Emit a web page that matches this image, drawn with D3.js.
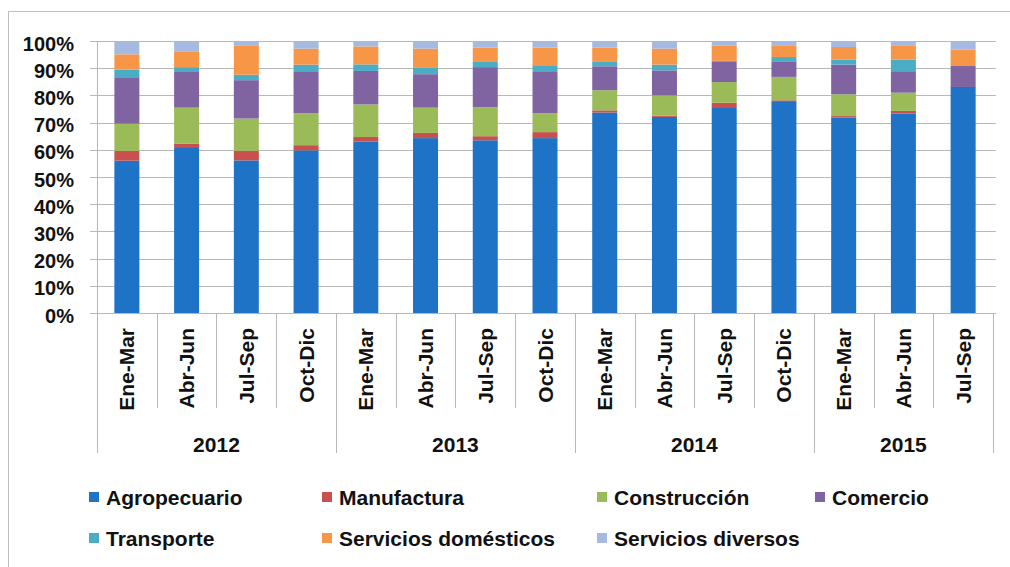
<!DOCTYPE html>
<html>
<head>
<meta charset="utf-8">
<script src="https://cdn.jsdelivr.net/npm/d3@7"></script>
<style>
  html, body { margin: 0; padding: 0; background: #fff; }
  svg { display: block; font-family: "Liberation Sans", Arial, Helvetica, sans-serif; }
</style>
</head>
<body>
<svg id="chart" width="1010" height="567"></svg>
<script>
// ---- Data ----
const years = ["2012", "2013", "2014", "2015"];
const quarters = ["Ene-Mar", "Abr-Jun", "Jul-Sep", "Oct-Dic",
                  "Ene-Mar", "Abr-Jun", "Jul-Sep", "Oct-Dic",
                  "Ene-Mar", "Abr-Jun", "Jul-Sep", "Oct-Dic",
                  "Ene-Mar", "Abr-Jun", "Jul-Sep"];
const quarterYear = ["2012","2012","2012","2012","2013","2013","2013","2013",
                     "2014","2014","2014","2014","2015","2015","2015"];
const seriesNames = ["Agropecuario", "Manufactura", "Construcción", "Comercio",
                     "Transporte", "Servicios domésticos", "Servicios diversos"];
const agropecuario = [56.0, 61.0, 56.1, 59.8, 63.1, 64.3, 63.5, 64.3, 73.7, 72.1, 75.7, 77.9, 71.8, 73.3, 83.1];
const manufactura  = [3.6, 1.3, 3.5, 1.9, 1.6, 1.9, 1.5, 2.2, 0.8, 0.4, 1.6, 0.3, 0.6, 1.0, 0.0];
const construccion = [10.0, 13.2, 11.9, 11.8, 12.0, 9.3, 10.7, 7.0, 7.4, 7.5, 7.6, 8.6, 8.0, 6.7, 0.0];
const comercio     = [16.8, 13.1, 14.1, 15.1, 12.3, 12.3, 14.7, 15.1, 8.8, 9.2, 7.4, 5.5, 10.9, 7.9, 7.7];
const transporte   = [3.1, 1.8, 2.0, 2.7, 2.4, 2.3, 1.9, 2.5, 1.6, 2.1, 0.4, 1.8, 1.9, 4.3, 0.0];
const servDomesticos = [5.6, 5.6, 10.6, 5.9, 6.6, 7.1, 5.3, 6.5, 5.3, 5.9, 5.7, 4.1, 4.6, 5.0, 6.0];
const servDiversos   = [4.9, 4.0, 1.8, 2.8, 2.0, 2.8, 2.4, 2.4, 2.4, 2.8, 1.6, 1.8, 2.2, 1.8, 3.2];
const yTicks = [0, 10, 20, 30, 40, 50, 60, 70, 80, 90, 100];

// ---- Styles ----
const colors = ["#1f73c6", "#c9504c", "#9bbb59", "#8064a2", "#4bacc6", "#f79646", "#a6b9e0"];
const seriesValues = [agropecuario, manufactura, construccion, comercio, transporte, servDomesticos, servDiversos];

const rows = quarters.map((q, i) => {
  const r = { idx: i };
  seriesNames.forEach((s, k) => { r[s] = seriesValues[k][i]; });
  return r;
});

const svg = d3.select("#chart");
const plotL = 97, plotR = 993, plotT = 41, plotB = 313;

// outer border
svg.append("rect").attr("x", 8.5).attr("y", 11.5).attr("width", 1010).attr("height", 560)
  .attr("fill", "none").attr("stroke", "#bdbdbd").attr("stroke-width", 1);

const x = d3.scaleBand().domain(d3.range(quarters.length)).range([plotL, plotR]).paddingInner(0).paddingOuter(0);
const y = d3.scaleLinear().domain([0, 100]).range([plotB, plotT]);
const barW = 25;

// gridlines
svg.append("g").selectAll("line").data(yTicks).join("line")
  .attr("x1", 90).attr("x2", 996)
  .attr("y1", d => Math.round(y(d)) + 0.5).attr("y2", d => Math.round(y(d)) + 0.5)
  .attr("stroke", "#b8b8b8").attr("stroke-width", 1.2);

// y axis
const yAxis = d3.axisLeft(y).tickValues(yTicks).tickFormat(d => d + "%").tickSize(0).tickPadding(23);
const gy = svg.append("g").attr("transform", `translate(${plotL},0)`).call(yAxis);
gy.select(".domain").attr("stroke", "#b8b8b8");
gy.selectAll("text").attr("font-size", 20).attr("font-weight", "bold").attr("fill", "#111")
  .attr("dy", "0.45em");

// stacked bars
const stack = d3.stack().keys(seriesNames);
const stacked = stack(rows);
svg.append("g").selectAll("g").data(stacked).join("g")
  .attr("fill", (d, i) => colors[i])
  .selectAll("rect").data(d => d).join("rect")
  .attr("x", (d, i) => x(i) + x.bandwidth() / 2 - barW / 2)
  .attr("width", barW)
  .attr("y", d => y(d[1]))
  .attr("height", d => Math.max(0, y(d[0]) - y(d[1])));

// x axis baseline
svg.append("line").attr("x1", plotL).attr("x2", plotR)
  .attr("y1", plotB + 0.5).attr("y2", plotB + 0.5).attr("stroke", "#b8b8b8");

// category separators
const boundaries = d3.range(quarters.length + 1);
const bx = i => (i < quarters.length ? x(i) : x(quarters.length - 1) + x.bandwidth());
svg.append("g").selectAll("line").data(boundaries).join("line")
  .attr("x1", i => Math.round(bx(i)) + 0.5)
  .attr("x2", i => Math.round(bx(i)) + 0.5)
  .attr("y1", plotB)
  .attr("y2", i => (i === 0 || i === quarters.length || quarterYear[i] !== quarterYear[i - 1]) ? 453 : 408)
  .attr("stroke", "#b8b8b8").attr("stroke-width", 1);

// quarter labels
svg.append("g").selectAll("text").data(quarters).join("text")
  .attr("transform", (d, i) => `translate(${x(i) + x.bandwidth() / 2},${plotB + 15}) rotate(-90)`)
  .attr("text-anchor", "end").attr("dy", "0.36em")
  .attr("font-size", 21).attr("font-weight", "bold").attr("fill", "#111")
  .text(d => d);

// year labels
svg.append("g").selectAll("text").data(years).join("text")
  .attr("x", yr => {
    const idx = quarterYear.map((q, i) => q === yr ? i : -1).filter(i => i >= 0);
    const x0 = x(idx[0]), x1 = x(idx[idx.length - 1]) + x.bandwidth();
    return (x0 + x1) / 2;
  })
  .attr("y", 452)
  .attr("text-anchor", "middle")
  .attr("font-size", 21).attr("font-weight", "bold").attr("fill", "#111")
  .text(d => d);

// legend
const legendPos = [[89, 497], [322, 497], [597, 497], [815, 497], [89, 538], [322, 538], [597, 538]];
const lg = svg.append("g").selectAll("g").data(seriesNames).join("g")
  .attr("transform", (d, i) => `translate(${legendPos[i][0]},${legendPos[i][1]})`);
lg.append("rect").attr("x", 0).attr("y", -5).attr("width", 10).attr("height", 10)
  .attr("fill", (d, i) => colors[i]);
lg.append("text").attr("x", 17).attr("y", 0).attr("dy", "0.36em")
  .attr("font-size", 21).attr("font-weight", "bold").attr("fill", "#111")
  .text(d => d);
</script>
</body>
</html>
